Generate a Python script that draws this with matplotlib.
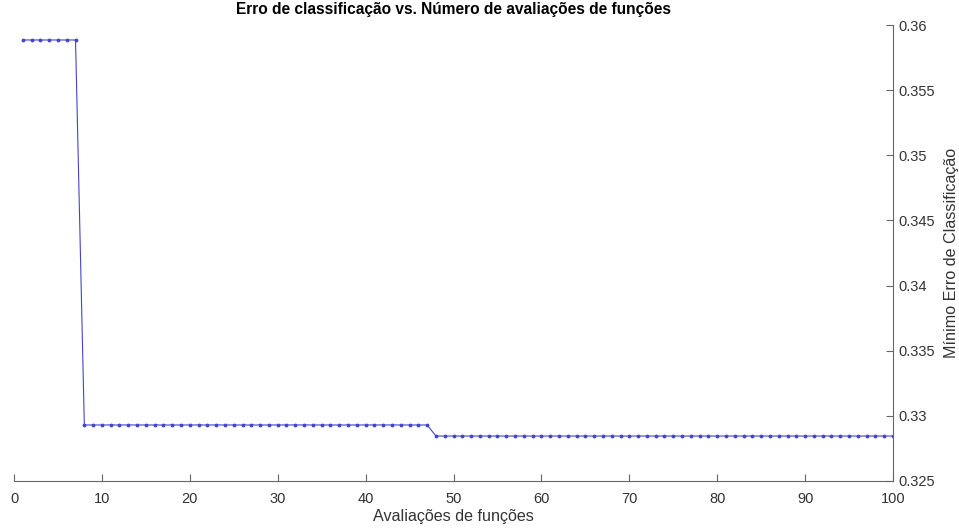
import matplotlib
matplotlib.use('Agg')
import matplotlib.pyplot as plt
from matplotlib.ticker import FuncFormatter

plt.rcParams['font.family'] = ['Liberation Sans', 'DejaVu Sans']

# function evaluations and best classification error so far
evals = list(range(1, 101))
min_error = [0.35885] * 7 + [0.3293] * 40 + [0.32845] * 53

x_ticks = [0, 10, 20, 30, 40, 50, 60, 70, 80, 90, 100]
y_ticks = [0.325, 0.33, 0.335, 0.34, 0.345, 0.35, 0.355, 0.36]

fig = plt.figure(figsize=(9.59, 5.32), dpi=100)
ax = fig.add_axes([0.0146, 0.0959, 0.9166, 0.8571])

ax.plot(evals, min_error, color='#4545c8', linewidth=0.8,
        marker='.', markersize=3.5)

ax.set_xlim(0, 100)
ax.set_ylim(0.325, 0.36)
ax.set_xticks(x_ticks)
ax.set_yticks(y_ticks)
ax.yaxis.set_major_formatter(FuncFormatter(lambda v, p: '%g' % round(v, 4)))

ax.yaxis.tick_right()
ax.yaxis.set_label_position('right')
for side in ['top', 'left']:
    ax.spines[side].set_visible(False)
for side in ['bottom', 'right']:
    ax.spines[side].set_color('#666666')
    ax.spines[side].set_linewidth(0.8)
ax.tick_params(direction='in', length=5, width=0.8, colors='#666666',
               labelcolor='#333333', labelsize=10.5)
ax.tick_params(axis='x', pad=8)
ax.tick_params(axis='y', pad=4)

ax.set_title('Erro de classificação vs. Número de avaliações de funções',
             fontsize=11.2, fontweight='bold', color='#000000', pad=8)
ax.set_xlabel('Avaliações de funções', fontsize=11.6, color='#333333', labelpad=2)
ax.set_ylabel('Mínimo Erro de Classificação', fontsize=11.6, color='#333333',
              labelpad=6)

plt.savefig('out.png', dpi=100)
plt.close()
